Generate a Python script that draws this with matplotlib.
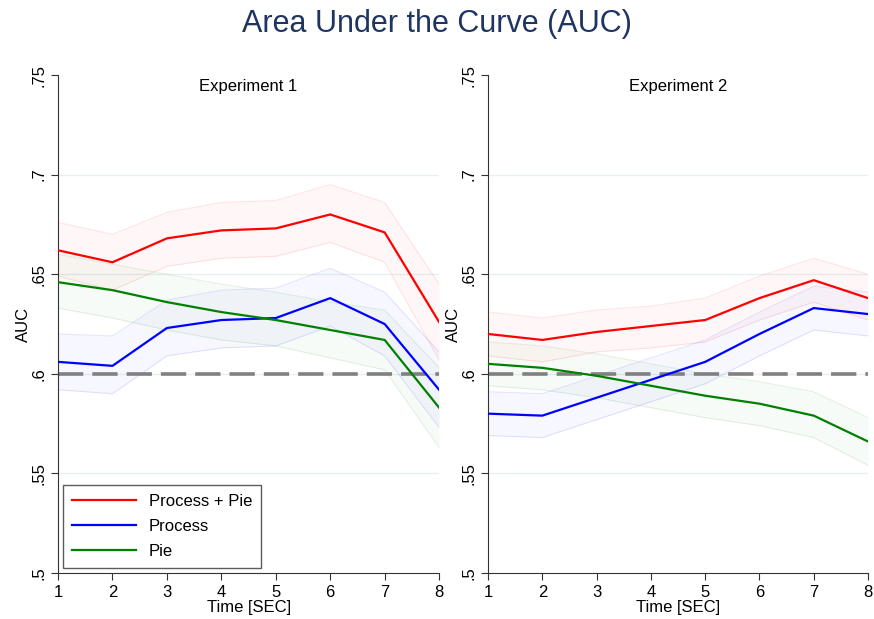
import matplotlib.pyplot as plt

plt.rcParams['font.family'] = ['Liberation Sans', 'DejaVu Sans']

# time points
time = [1, 2, 3, 4, 5, 6, 7, 8]

# Experiment 1: mean AUC and CI bounds
exp1_both = [0.662, 0.656, 0.668, 0.672, 0.673, 0.680, 0.671, 0.626]
exp1_both_lo = [0.649, 0.642, 0.654, 0.658, 0.659, 0.666, 0.656, 0.607]
exp1_both_hi = [0.676, 0.670, 0.681, 0.686, 0.687, 0.695, 0.686, 0.645]

exp1_process = [0.606, 0.604, 0.623, 0.627, 0.628, 0.638, 0.625, 0.592]
exp1_process_lo = [0.592, 0.590, 0.609, 0.613, 0.614, 0.624, 0.609, 0.573]
exp1_process_hi = [0.620, 0.619, 0.637, 0.642, 0.643, 0.653, 0.641, 0.611]

exp1_pie = [0.646, 0.642, 0.636, 0.631, 0.627, 0.622, 0.617, 0.583]
exp1_pie_lo = [0.633, 0.628, 0.622, 0.617, 0.614, 0.608, 0.602, 0.563]
exp1_pie_hi = [0.660, 0.655, 0.650, 0.645, 0.641, 0.636, 0.632, 0.603]

# Experiment 2
exp2_both = [0.620, 0.617, 0.621, 0.624, 0.627, 0.638, 0.647, 0.638]
exp2_both_lo = [0.609, 0.606, 0.611, 0.613, 0.616, 0.627, 0.636, 0.627]
exp2_both_hi = [0.631, 0.628, 0.632, 0.634, 0.638, 0.649, 0.658, 0.650]

exp2_process = [0.580, 0.579, 0.588, 0.597, 0.606, 0.620, 0.633, 0.630]
exp2_process_lo = [0.569, 0.568, 0.577, 0.586, 0.595, 0.609, 0.622, 0.619]
exp2_process_hi = [0.591, 0.590, 0.599, 0.608, 0.617, 0.631, 0.644, 0.641]

exp2_pie = [0.605, 0.603, 0.599, 0.594, 0.589, 0.585, 0.579, 0.566]
exp2_pie_lo = [0.594, 0.592, 0.588, 0.583, 0.578, 0.574, 0.568, 0.554]
exp2_pie_hi = [0.616, 0.614, 0.610, 0.605, 0.600, 0.596, 0.591, 0.578]

series_labels = ["Process + Pie", "Process", "Pie"]
series_colors = ["#ff0000", "#0000ff", "#008000"]
panel_titles = ["Experiment 1", "Experiment 2"]
chance = 0.6
y_ticks = [0.5, 0.55, 0.6, 0.65, 0.7, 0.75]
y_ticklabels = [".5", ".55", ".6", ".65", ".7", ".75"]

panels = [
    [(exp1_both, exp1_both_lo, exp1_both_hi),
     (exp1_process, exp1_process_lo, exp1_process_hi),
     (exp1_pie, exp1_pie_lo, exp1_pie_hi)],
    [(exp2_both, exp2_both_lo, exp2_both_hi),
     (exp2_process, exp2_process_lo, exp2_process_hi),
     (exp2_pie, exp2_pie_lo, exp2_pie_hi)],
]

fig = plt.figure(figsize=(8.74, 6.19), dpi=100)
ax1 = fig.add_axes([0.0664, 0.0743, 0.436, 0.8045])
ax2 = fig.add_axes([0.5584, 0.0743, 0.4348, 0.8045])

for ax, series, title in zip([ax1, ax2], panels, panel_titles):
    for yv in [0.55, 0.6, 0.65, 0.7]:
        ax.axhline(yv, color="#e8f0f1", lw=1, zorder=0)
    for (mean, lo, hi), lab, col in zip(series, series_labels, series_colors):
        ax.fill_between(time, lo, hi, color=col, alpha=0.03, lw=0, zorder=1)
        ax.plot(time, lo, color=col, alpha=0.1, lw=0.8, zorder=1)
        ax.plot(time, hi, color=col, alpha=0.1, lw=0.8, zorder=1)
        ax.plot(time, mean, color=col, lw=1.6, label=lab, zorder=3)
    ax.axhline(chance, color="#808080", lw=2.6, dashes=(7, 2.5), zorder=2)

    ax.set_xlim(1, 8)
    ax.set_ylim(0.5, 0.75)
    ax.set_xticks(time)
    ax.set_yticks(y_ticks)
    ax.set_yticklabels(y_ticklabels, rotation=90, va="center")
    ax.tick_params(labelsize=12, length=5, width=0.8, colors="#333333", labelcolor="black")
    ax.spines["top"].set_visible(False)
    ax.spines["right"].set_visible(False)
    ax.spines["left"].set_color("#333333")
    ax.spines["bottom"].set_color("#333333")
    ax.set_xlabel("Time [SEC]", fontsize=12, labelpad=0)
    ax.set_ylabel("AUC", fontsize=12, labelpad=0)
    ax.text(0.5, 0.977, title, transform=ax.transAxes, ha="center", va="center", fontsize=12)

leg = ax1.legend(loc="lower left", fontsize=12, frameon=True, fancybox=False,
                 edgecolor="#333333", handlelength=3.8, borderaxespad=0.3,
                 labelspacing=0.6, handletextpad=0.8, borderpad=0.55)
leg.get_frame().set_linewidth(1.0)

fig.suptitle("Area Under the Curve (AUC)", fontsize=22, color="#1e3461", y=0.985)

plt.savefig("out.png", dpi=100)
